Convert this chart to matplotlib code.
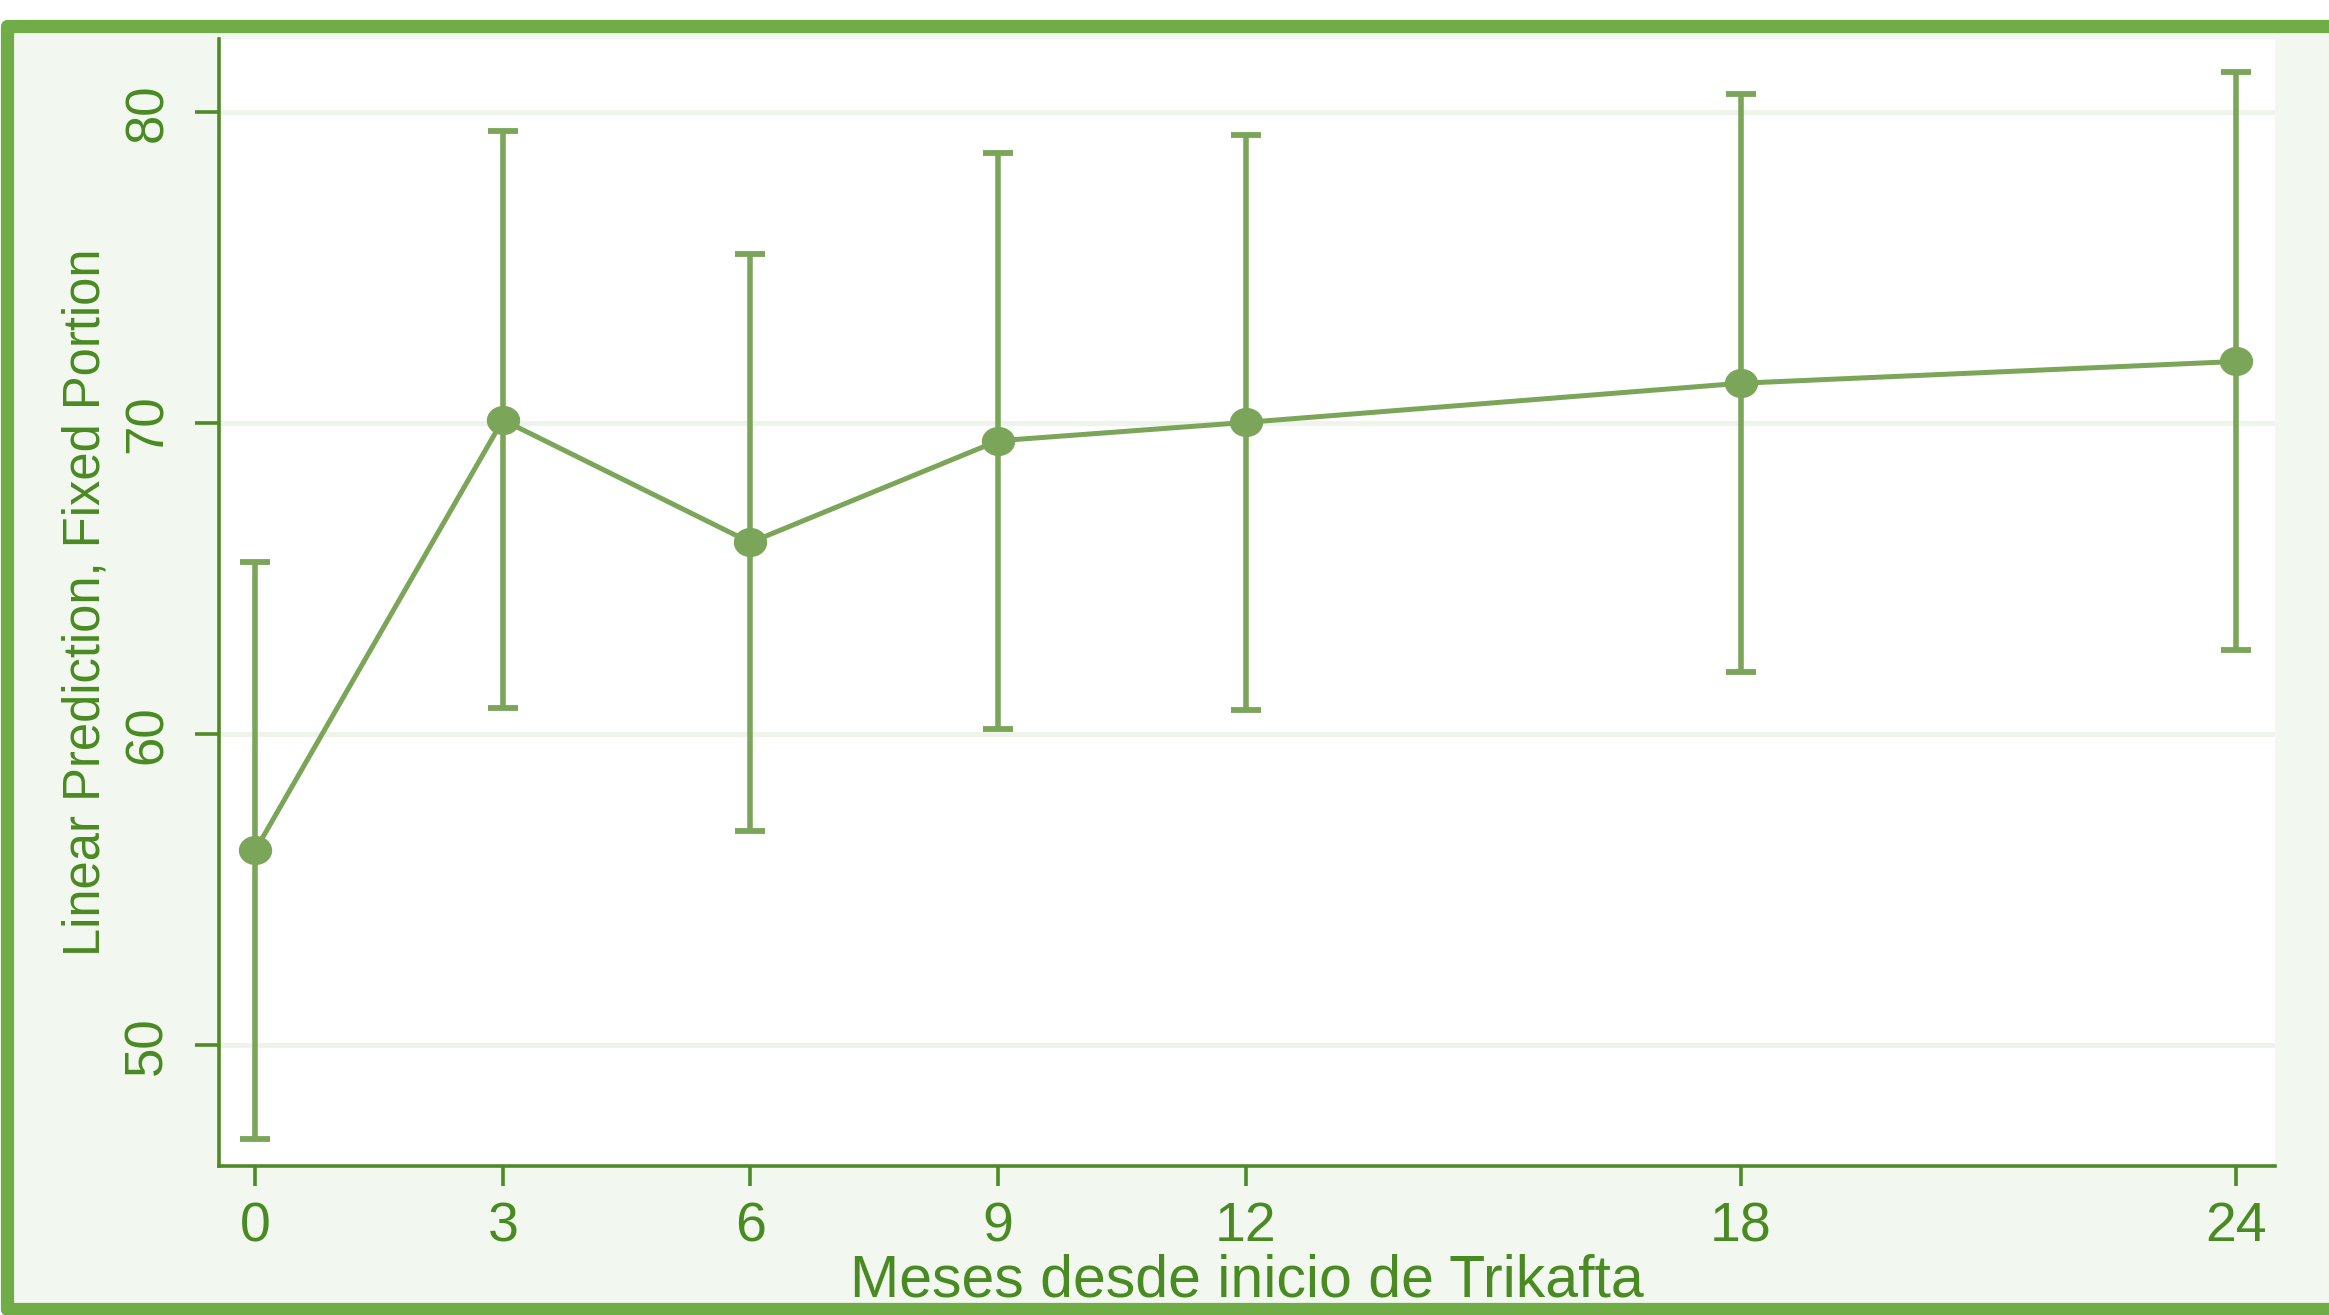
import numpy as np
import matplotlib
matplotlib.use('Agg')
import matplotlib.pyplot as plt
from matplotlib.patches import Rectangle
from matplotlib.path import Path
from matplotlib.transforms import Affine2D

# datos (marginsplot)
meses = [0, 3, 6, 9, 12, 18, 24]
prediccion = [56.27, 70.11, 66.17, 69.44, 70.03, 71.29, 71.99]
ic_inf = [47.00, 60.85, 56.90, 60.17, 60.78, 62.02, 62.70]
ic_sup = [65.54, 79.39, 75.44, 78.69, 79.28, 80.59, 81.31]
yticks = [50, 60, 70, 80]

W, H = 2329, 1315
verde_borde = '#70AD47'
verde_fondo = '#F2F7EF'
verde_eje = '#4E8B27'
verde_texto = '#4A8A22'
verde_serie = '#7BA65A'
verde_grid = '#EEF4EA'

plt.rcParams['font.family'] = ['Liberation Sans', 'DejaVu Sans']

fig = plt.figure(figsize=(W / 100, H / 100), dpi=100, facecolor='white')

# marco exterior
marco = Rectangle((7 / W, 6 / H), 2.0, (H - 26 - 6) / H, transform=fig.transFigure,
                  facecolor=verde_fondo, edgecolor=verde_borde, lw=9.5, joinstyle='round', zorder=-10)
fig.patches.append(marco)

ax = fig.add_axes([219.3 / W, (H - 1166) / H, (2275 - 219.3) / W, (1166 - 39) / H])
ax.set_zorder(1)
ax.set_facecolor('white')

# el original esta estirado en horizontal: marcador eliptico
elipse = Path.unit_circle().transformed(Affine2D().scale(1.15, 1.0))

pred = np.array(prediccion)
err = [pred - np.array(ic_inf), np.array(ic_sup) - pred]
ax.errorbar(meses, pred, yerr=err, fmt='-', marker=elipse, color=verde_serie, lw=3.6, ms=23,
            elinewidth=4.0, capsize=11, capthick=4.2, zorder=3)

ax.set_xlim(-0.436, 24.475)
ax.set_ylim(46.12, 82.36)

ax.set_xticks(meses)
ax.set_xticklabels([str(m) for m in meses])
ax.set_yticks(yticks)
ax.set_yticklabels([str(v) for v in yticks], rotation=90, va='center')

ax.yaxis.grid(True, color=verde_grid, lw=3.6)
ax.xaxis.grid(False)
ax.set_axisbelow(True)

for s in ['top', 'right']:
    ax.spines[s].set_visible(False)
for s in ['left', 'bottom']:
    ax.spines[s].set_color(verde_eje)
    ax.spines[s].set_linewidth(2.6)

ax.tick_params(axis='x', length=14.5, width=2.6, color=verde_eje, labelcolor=verde_texto,
               labelsize=40, pad=11)
ax.tick_params(axis='y', length=17.5, width=2.6, color=verde_eje, labelcolor=verde_texto,
               labelsize=38, pad=16)

ax.set_xlabel('Meses desde inicio de Trikafta', fontsize=42.5, color=verde_texto, labelpad=0)
ax.set_ylabel('Linear Prediction, Fixed Portion', fontsize=36.5, color=verde_texto, labelpad=9)

fig.savefig('out.png', dpi=100, facecolor=fig.get_facecolor())
